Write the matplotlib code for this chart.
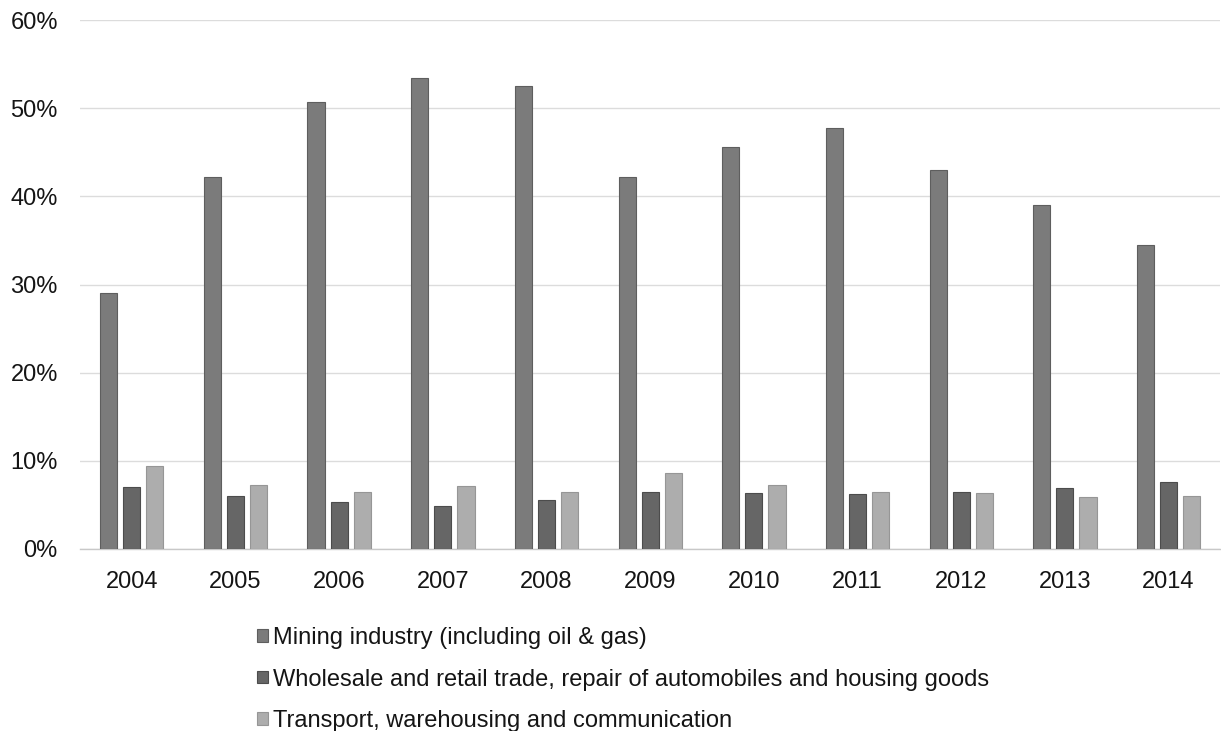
import matplotlib
matplotlib.use("Agg")
import matplotlib.pyplot as plt
import numpy as np
from matplotlib.ticker import FuncFormatter

years = ["2004", "2005", "2006", "2007", "2008", "2009", "2010", "2011", "2012", "2013", "2014"]
mining = [29.0, 42.2, 50.7, 53.4, 52.5, 42.2, 45.6, 47.7, 43.0, 39.0, 34.5]
wholesale = [7.0, 6.0, 5.3, 4.9, 5.5, 6.5, 6.3, 6.2, 6.5, 6.9, 7.6]
transport = [9.4, 7.25, 6.5, 7.2, 6.5, 8.6, 7.3, 6.5, 6.4, 5.9, 6.0]

series_names = [
    "Mining industry (including oil & gas)",
    "Wholesale and retail trade, repair of automobiles and housing goods",
    "Transport, warehousing and communication",
]
colors = ["#7b7b7b", "#666666", "#adadad"]
edges = ["#5e5e5e", "#4c4c4c", "#969696"]

plt.rcParams["font.family"] = ["Liberation Sans", "DejaVu Sans"]

fig = plt.figure(figsize=(12.21, 7.31), dpi=100)
fig.patch.set_facecolor("white")
ax = fig.add_axes([0.0655, 0.249, 0.934, 0.7236])

x = np.arange(len(years))
w = 0.165
pitch = 0.223
for i, (vals, c, ec, name) in enumerate(zip([mining, wholesale, transport], colors, edges, series_names)):
    ax.bar(x + (i - 1) * pitch, vals, width=w, color=c, edgecolor=ec, linewidth=0.8,
           label=name, zorder=3)

ax.set_xlim(-0.5, len(years) - 0.5)
ax.set_ylim(0, 60)
ax.set_yticks(np.arange(0, 61, 10))
ax.yaxis.set_major_formatter(FuncFormatter(lambda v, p: f"{v:.0f}%"))
ax.set_xticks(x)
ax.set_xticklabels(years)

ax.grid(axis="y", color="#dcdcdc", linewidth=1.0, zorder=0)
ax.set_axisbelow(True)
for s in ["top", "right", "left"]:
    ax.spines[s].set_visible(False)
ax.spines["bottom"].set_color("#c8c8c8")
ax.spines["bottom"].set_linewidth(1.0)
ax.tick_params(axis="both", length=0, labelsize=17, colors="#151515")
ax.tick_params(axis="y", pad=16)
ax.tick_params(axis="x", pad=16)

leg = fig.legend(loc="upper left", bbox_to_anchor=(0.203, 0.155), frameon=False,
                 fontsize=17, handlelength=0.45, handleheight=0.45, handletextpad=0.2,
                 labelspacing=0.82, borderaxespad=0)
for t in leg.get_texts():
    t.set_color("#151515")

fig.savefig("out.png", dpi=100, facecolor="white")
